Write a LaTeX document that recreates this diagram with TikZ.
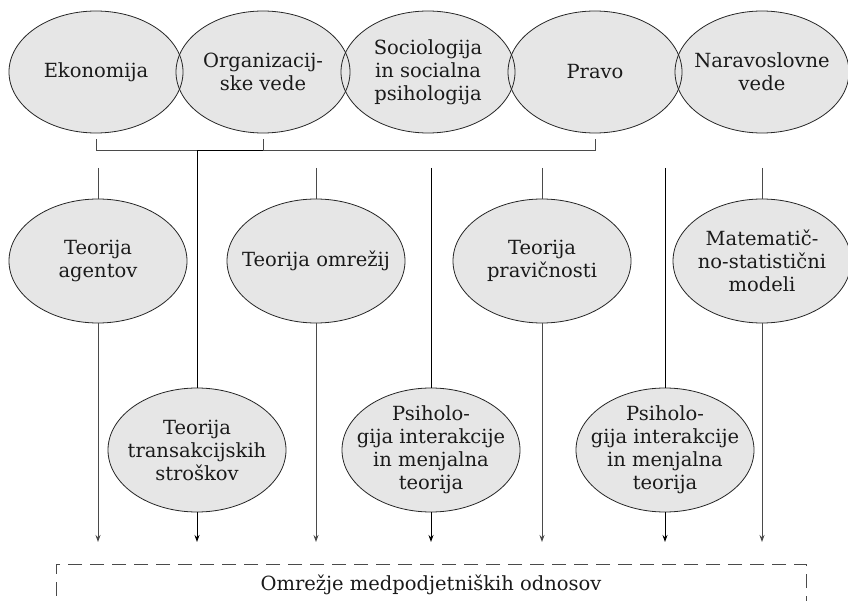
\documentclass[tikz,border=0pt]{standalone}
\usepackage{fontspec}
\setmainfont{DejaVu Serif}
\usetikzlibrary{arrows.meta, backgrounds, shapes.geometric}
\definecolor{ovalFill}{HTML}{E6E6E6}
\definecolor{lineGray}{HTML}{4A4A4A}
\definecolor{textDark}{HTML}{1A1A1A}

\begin{document}
\begin{tikzpicture}[x=1pt, y=-1pt,
  every node/.style={font=\fontsize{19.5}{23}\selectfont, text=textDark},
  oval/.style={ellipse, draw=black!85, line width=0.8pt, fill=ovalFill,
    minimum width=178pt, minimum height=124pt, inner sep=-25pt, align=center},
  discipline/.style={oval, fill=none, minimum width=174pt, minimum height=122pt},
  feed/.style={draw=lineGray, line width=0.9pt},
  link/.style={draw=black, line width=0.9pt},
  tip/.style={-{Stealth[length=7pt, width=5pt]}},
  netbox/.style={draw=lineGray, line width=0.9pt, dash pattern=on 14pt off 8pt,
    minimum width=750pt, inner ysep=0pt, outer sep=0pt, text height=26pt, text depth=40pt}]
  \clip (0,0) rectangle (848,601);
  \coordinate (topline) at (0,168);
  \coordinate (arrline) at (0,542);

  % disciplines
  \node[discipline] (eko) at (96,72) {Ekonomija};
  \node[discipline] (org) at (263,72) {Organizacij-\\ske vede};
  \node[discipline] (soc) at (428,72) {Sociologija\\in socialna\\psihologija};
  \node[discipline] (pra) at (595,72) {Pravo};
  \node[discipline] (nar) at (762,72) {Naravoslovne\\vede};
  \begin{scope}[on background layer]
    \foreach \n in {eko, org, soc, pra, nar}
      \fill[ovalFill] (\n.center) ellipse [x radius=87, y radius=61];
  \end{scope}

  % theories
  \node[oval] (agent) at (98,261) {Teorija\\agentov};
  \node[oval] (omr) at (316,261) {Teorija omrežij};
  \node[oval] (prav) at (542,261) {Teorija\\pravičnosti};
  \node[oval] (mat) at (762,261) {Matematič-\\no-statistični\\modeli};
  \node[oval] (trans) at (197,450) {Teorija\\transakcijskih\\stroškov};
  \node[oval] (psiA) at (431,450) {Psiholo-\\gija interakcije\\in menjalna\\teorija};
  \node[oval] (psiB) at (665,450) {Psiholo-\\gija interakcije\\in menjalna\\teorija};

  \node[netbox, anchor=north] (mreza) at (431,564) {Omrežje medpodjetniških odnosov};

  % bracket under the disciplines
  \draw[feed] ([yshift=-6pt]eko.south) -- ++(0,11) -| ([yshift=-6pt]pra.south);
  \draw[feed] ([yshift=-6pt]org.south) -- ++(0,11);
  \draw[link] ([yshift=-17pt]org.south) -| (trans.north);

  \foreach \n in {agent, omr, prav, mat} {
    \draw[feed] (\n.north |- topline) -- (\n.north);
    \draw[feed, tip] (\n.south) -- (\n.south |- arrline);
  }
  \foreach \n in {psiA, psiB} {
    \draw[link] (\n.north |- topline) -- (\n.north);
    \draw[link, tip] (\n.south) -- (\n.south |- arrline);
  }
  \draw[link, tip] (trans.south) -- (trans.south |- arrline);
\end{tikzpicture}
\end{document}
